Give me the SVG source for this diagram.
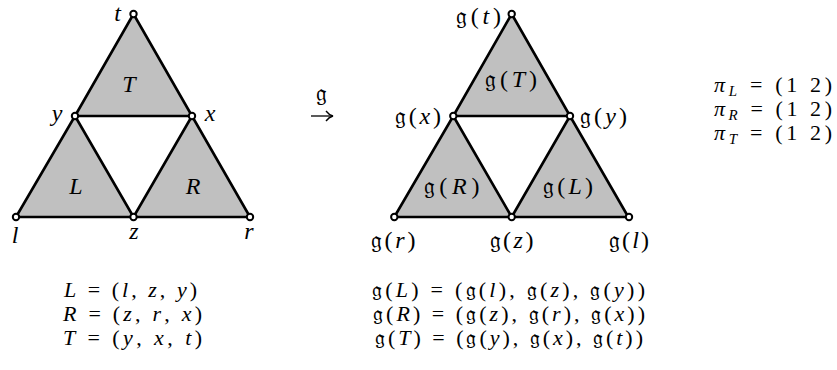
<svg xmlns="http://www.w3.org/2000/svg" width="837" height="370" viewBox="0 0 837 370">
<style>
.tri{fill:#c0c0c0;stroke:#000;stroke-width:2.6;stroke-linejoin:round}
.v{fill:#fff;stroke:#000;stroke-width:2}
text{font-family:"Liberation Serif","DejaVu Serif",serif;font-size:24px;fill:#000}
.i{font-style:italic}
.m{text-anchor:middle}
.e{text-anchor:end}
.fr{font-family:"DejaVu Serif","DejaVu Sans","Noto Sans",serif;font-style:normal}
.eq{font-size:22px}
.sub{font-size:15px}
</style>
<rect width="837" height="370" fill="#fff"/>
<g id="connectors">
<polygon class="tri" points="133.5,14 75,116 192,116"/>
<polygon class="tri" points="75,116 16,217 133.5,217"/>
<polygon class="tri" points="192,116 133.5,217 250,217"/>
<polygon class="tri" points="511.7,14 453.3,116 570,116"/>
<polygon class="tri" points="453.3,116 394.3,217 511.7,217"/>
<polygon class="tri" points="570,116 511.7,217 628.3,217"/>
</g>
<g id="left-face-T"><text class="i m" x="129" y="92">T</text></g>
<g id="left-face-L"><text class="i m" x="76" y="194">L</text></g>
<g id="left-face-R"><text class="i m" x="193" y="194">R</text></g>
<g id="node-t"><circle class="v" cx="133.5" cy="14" r="3.2"/><text class="i m" x="117.5" y="21">t</text></g>
<g id="node-y"><circle class="v" cx="75" cy="116" r="3.2"/><text class="i m" x="57" y="121">y</text></g>
<g id="node-x"><circle class="v" cx="192" cy="116" r="3.2"/><text class="i m" x="210" y="121">x</text></g>
<g id="node-l"><circle class="v" cx="16" cy="217" r="3.2"/><text class="i m" x="15" y="243">l</text></g>
<g id="node-z"><circle class="v" cx="133.5" cy="217" r="3.2"/><text class="i m" x="134" y="239">z</text></g>
<g id="node-r"><circle class="v" cx="250" cy="217" r="3.2"/><text class="i m" x="249" y="239">r</text></g>

<g id="map-arrow">
<text class="fr m" x="321" y="101">𝔤</text>
<line x1="311" y1="116" x2="332" y2="116" stroke="#000" stroke-width="1.3"/>
<path d="M326,111 Q329,115 333,116 Q329,117 326,121" fill="none" stroke="#000" stroke-width="1.3"/>
</g>

<g id="right-face-T"><text class="m" x="511" y="87" textLength="52" lengthAdjust="spacing"><tspan class="fr">𝔤</tspan>(<tspan class="i">T</tspan>)</text></g>
<g id="right-face-R"><text class="m" x="451.5" y="194" textLength="56" lengthAdjust="spacing"><tspan class="fr">𝔤</tspan>(<tspan class="i">R</tspan>)</text></g>
<g id="right-face-L"><text class="m" x="568" y="194" textLength="50" lengthAdjust="spacing"><tspan class="fr">𝔤</tspan>(<tspan class="i">L</tspan>)</text></g>
<g id="node-gt"><circle class="v" cx="511.7" cy="14" r="3.2"/><text class="e" x="501" y="24" textLength="45" lengthAdjust="spacing"><tspan class="fr">𝔤</tspan>(<tspan class="i">t</tspan>)</text></g>
<g id="node-gx"><circle class="v" cx="453.3" cy="116" r="3.2"/><text class="e" x="441" y="124" textLength="46" lengthAdjust="spacing"><tspan class="fr">𝔤</tspan>(<tspan class="i">x</tspan>)</text></g>
<g id="node-gy"><circle class="v" cx="570" cy="116" r="3.2"/><text x="580" y="124" textLength="47" lengthAdjust="spacing"><tspan class="fr">𝔤</tspan>(<tspan class="i">y</tspan>)</text></g>
<g id="node-gr"><circle class="v" cx="394.3" cy="217" r="3.2"/><text class="m" x="393" y="248" textLength="45" lengthAdjust="spacing"><tspan class="fr">𝔤</tspan>(<tspan class="i">r</tspan>)</text></g>
<g id="node-gz"><circle class="v" cx="511.7" cy="217" r="3.2"/><text class="m" x="511.5" y="248" textLength="44" lengthAdjust="spacing"><tspan class="fr">𝔤</tspan>(<tspan class="i">z</tspan>)</text></g>
<g id="node-gl"><circle class="v" cx="629" cy="217" r="3.2"/><text class="m" x="629" y="248" textLength="40" lengthAdjust="spacing"><tspan class="fr">𝔤</tspan>(<tspan class="i">l</tspan>)</text></g>

<g id="perms">
<text class="eq" x="714" y="92" textLength="118" lengthAdjust="spacing"><tspan class="i">π</tspan><tspan class="i sub" dy="4">L</tspan><tspan dy="-4"> = (1 2)</tspan></text>
<text class="eq" x="714" y="116" textLength="118" lengthAdjust="spacing"><tspan class="i">π</tspan><tspan class="i sub" dy="4">R</tspan><tspan dy="-4"> = (1 2)</tspan></text>
<text class="eq" x="714" y="140" textLength="118" lengthAdjust="spacing"><tspan class="i">π</tspan><tspan class="i sub" dy="4">T</tspan><tspan dy="-4"> = (1 2)</tspan></text>
</g>

<g id="left-defs">
<text class="eq" x="64" y="297" textLength="133" lengthAdjust="spacing"><tspan class="i">L</tspan> = (<tspan class="i">l</tspan>, <tspan class="i">z</tspan>, <tspan class="i">y</tspan>)</text>
<text class="eq" x="63" y="321" textLength="139" lengthAdjust="spacing"><tspan class="i">R</tspan> = (<tspan class="i">z</tspan>, <tspan class="i">r</tspan>, <tspan class="i">x</tspan>)</text>
<text class="eq" x="63" y="345" textLength="139" lengthAdjust="spacing"><tspan class="i">T</tspan> = (<tspan class="i">y</tspan>, <tspan class="i">x</tspan>, <tspan class="i">t</tspan>)</text>
</g>
<g id="right-defs">
<text class="eq" x="372" y="297" textLength="273" lengthAdjust="spacing"><tspan class="fr">𝔤</tspan>(<tspan class="i">L</tspan>) = (<tspan class="fr">𝔤</tspan>(<tspan class="i">l</tspan>), <tspan class="fr">𝔤</tspan>(<tspan class="i">z</tspan>), <tspan class="fr">𝔤</tspan>(<tspan class="i">y</tspan>))</text>
<text class="eq" x="373" y="321" textLength="272" lengthAdjust="spacing"><tspan class="fr">𝔤</tspan>(<tspan class="i">R</tspan>) = (<tspan class="fr">𝔤</tspan>(<tspan class="i">z</tspan>), <tspan class="fr">𝔤</tspan>(<tspan class="i">r</tspan>), <tspan class="fr">𝔤</tspan>(<tspan class="i">x</tspan>))</text>
<text class="eq" x="375" y="345" textLength="268" lengthAdjust="spacing"><tspan class="fr">𝔤</tspan>(<tspan class="i">T</tspan>) = (<tspan class="fr">𝔤</tspan>(<tspan class="i">y</tspan>), <tspan class="fr">𝔤</tspan>(<tspan class="i">x</tspan>), <tspan class="fr">𝔤</tspan>(<tspan class="i">t</tspan>))</text>
</g>
</svg>
